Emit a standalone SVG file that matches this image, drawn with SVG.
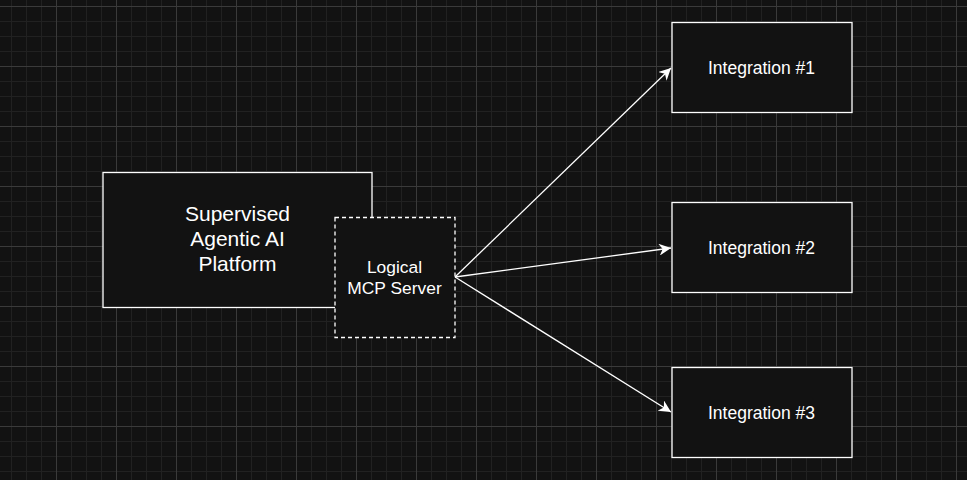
<svg xmlns="http://www.w3.org/2000/svg" width="967" height="480" viewBox="0 0 967 480">
<defs>
<pattern id="minor" width="15" height="15" patternUnits="userSpaceOnUse" x="11" y="6">
<path d="M0 0.5H15M0.5 0V15" fill="none" stroke="#212121" stroke-width="1"/>
</pattern>
<pattern id="major" width="60" height="60" patternUnits="userSpaceOnUse" x="56" y="6">
<path d="M0 0.5H60M0.5 0V60" fill="none" stroke="#3a3a3a" stroke-width="1"/>
</pattern>
<marker id="arr" viewBox="0 0 10 10" refX="10" refY="5" markerWidth="12" markerHeight="12" markerUnits="userSpaceOnUse" orient="auto">
<path d="M0 0L10 5L0 10L3 5Z" fill="#fff"/>
</marker>
</defs>
<style>
.box{fill:#121212;stroke:#fff;stroke-width:1.3}
.dash{fill:#121212;stroke:#fff;stroke-width:1.3;stroke-dasharray:4 3}
.t{font-family:"Liberation Sans",Arial,sans-serif;fill:#fff;text-anchor:middle}
.edge{stroke:#fff;stroke-width:1.3;fill:none}
</style>
<rect width="967" height="480" fill="#121212"/>
<rect width="967" height="480" fill="url(#minor)"/>
<rect width="967" height="480" fill="url(#major)"/>
<g id="platform">
<rect class="box" x="103" y="172.5" width="269" height="135"/>
<text class="t" font-size="21"><tspan x="237.5" y="221">Supervised</tspan><tspan x="237.5" y="246">Agentic AI</tspan><tspan x="237.5" y="271">Platform</tspan></text>
</g>
<g id="mcp">
<rect class="dash" x="335" y="217.5" width="120" height="120"/>
<text class="t" font-size="17.4"><tspan x="394.5" y="272.5">Logical</tspan><tspan x="394.5" y="294">MCP Server</tspan></text>
</g>
<g id="int1">
<rect class="box" x="672" y="22.5" width="180" height="90"/>
<text class="t" font-size="17.5" x="761.5" y="73.5">Integration #1</text>
</g>
<g id="int2">
<rect class="box" x="672" y="202.5" width="180" height="90"/>
<text class="t" font-size="17.5" x="761.5" y="253.5">Integration #2</text>
</g>
<g id="int3">
<rect class="box" x="672" y="367.5" width="180" height="90"/>
<text class="t" font-size="17.5" x="761.5" y="418.5">Integration #3</text>
</g>
<g id="connectors">
<path class="edge" d="M455 277L671 68" marker-end="url(#arr)"/>
<path class="edge" d="M455 277L671 248" marker-end="url(#arr)"/>
<path class="edge" d="M455 277L671 412" marker-end="url(#arr)"/>
</g>
</svg>
